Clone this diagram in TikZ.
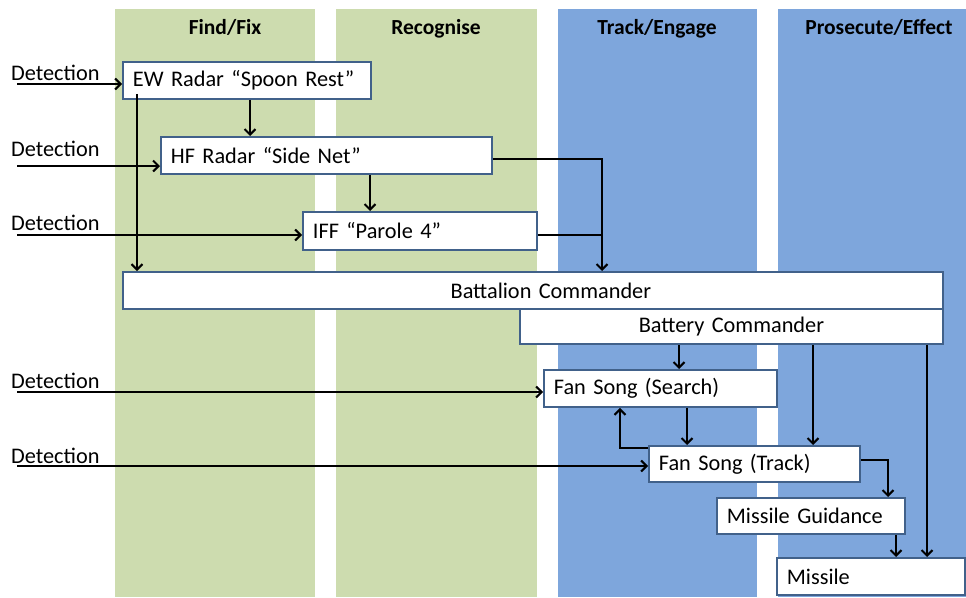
\documentclass[tikz,border=0pt]{standalone}
\usepackage{fontspec}
\setmainfont{Carlito}[WordSpace=0.7]
\usetikzlibrary{arrows.meta,calc}
\definecolor{colgreen}{HTML}{CDDCAF}
\definecolor{colblue}{HTML}{7EA6DC}
\definecolor{boxline}{HTML}{41618A}
\tikzset{
  every node/.style={font=\fontsize{22.3}{26}\selectfont},
  box/.style={draw=boxline, line width=1.8pt, fill=white, anchor=north west,
    inner xsep=10pt, inner ysep=0pt, align=left},
  hdr/.style={font=\fontsize{21.5}{25}\selectfont\bfseries, anchor=base},
  det/.style={anchor=base west, inner sep=0pt},
  arr/.style={line width=2.1pt, -{Straight Barb[length=5.5pt,width=11pt,line width=2.1pt]}},
  plain/.style={line width=2.1pt},
}
\begin{document}
\begin{tikzpicture}[x=1pt,y=-1pt]
\useasboundingbox (0,0) rectangle (966,597);
% columns
\fill[colgreen] (115,9) rectangle (315,597);
\fill[colgreen] (336,9) rectangle (537,597);
\fill[colblue] (558,9) rectangle (757,597);
\fill[colblue] (778,9) rectangle (966,597);
\node[hdr] (h1) at (225,34) {Find/Fix};
\node[hdr] (h2) at (436,34) {Recognise};
\node[hdr] (h3) at (657,34) {Track/Engage};
\node[hdr] (h4) at (879,34) {Prosecute/Effect};
% boxes
\node[box, text width=228pt, minimum height=37pt] (ew) at (122,61) {EW Radar “Spoon Rest”};
\node[box, text width=311pt, minimum height=37pt] (hf) at (160,136) {HF Radar “Side Net”};
\node[box, text width=214pt, minimum height=38pt] (iff) at (302,211) {IFF “Parole 4”};
\node[box, text width=800pt, minimum height=37pt, align=center] (bat) at (122,271) {\hspace*{36pt}Battalion Commander};
\node[box, text width=403pt, minimum height=35pt, align=center] (batt) at (519,308) {Battery Commander};
\node[box, text width=213pt, minimum height=37pt] (fss) at (543,369) {Fan Song (Search)};
\node[box, text width=191pt, minimum height=36pt] (fst) at (648,445) {Fan Song (Track)};
\node[box, text width=168pt, minimum height=36pt] (mg) at (716,497) {Missile Guidance};
\node[box, text width=168pt, minimum height=37pt] (mis) at (776,557) {Missile};
% detection labels
\node[det] (l1) at (11,80) {Detection};
\node[det] (l2) at (11,156) {Detection};
\node[det] (l3) at (11,230) {Detection};
\node[det] (l4) at (11,388) {Detection};
\node[det] (l5) at (11,463) {Detection};
% helper coordinates
\coordinate (s1) at (17,84);
\coordinate (s2) at (17,166);
\coordinate (s3) at (17,235);
\coordinate (s4) at (17,392);
\coordinate (s5) at (17,466);
\coordinate (c1) at (137,0);
\coordinate (c2) at (250,0);
\coordinate (c3) at (370,0);
\coordinate (c4) at (602,0);
\coordinate (c5) at (679,0);
\coordinate (c6) at (687,0);
\coordinate (c7) at (620,0);
\coordinate (c8) at (813,0);
\coordinate (c9) at (888,0);
\coordinate (c10) at (896,0);
\coordinate (c11) at (927,0);
\coordinate (y159) at (0,159);
\coordinate (y235) at (0,235);
\coordinate (y448) at (0,448);
\coordinate (y460) at (0,460);
% detection arrows
\draw[arr] (s1) -- (s1 -| ew.west);
\draw[arr] (s2) -- (s2 -| hf.west);
\draw[arr] (s3) -- (s3 -| iff.west);
\draw[arr] (s4) -- (s4 -| fss.west);
\draw[arr] (s5) -- (s5 -| fst.west);
% connectors
\draw[arr] ([yshift=6pt]ew.south -| c1) -- (bat.north -| c1);
\draw[arr] (ew.south -| c2) -- (hf.north -| c2);
\draw[arr] (hf.south -| c3) -- (iff.north -| c3);
\draw[arr] (hf.east |- y159) -- (c4 |- y159) -- (bat.north -| c4);
\draw[plain] (iff.east |- y235) -- (c4 |- y235);
\draw[arr] (batt.south -| c5) -- (fss.north -| c5);
\draw[arr] (fss.south -| c6) -- (fst.north -| c6);
\draw[arr] (fst.west |- y448) -- (c7 |- y448) -- (fss.south -| c7);
\draw[arr] (batt.south -| c8) -- (fst.north -| c8);
\draw[arr] (fst.east |- y460) -- (c9 |- y460) -- (mg.north -| c9);
\draw[arr] (mg.south -| c10) -- (mis.north -| c10);
\draw[arr] (batt.south -| c11) -- (mis.north -| c11);
\end{tikzpicture}
\end{document}
